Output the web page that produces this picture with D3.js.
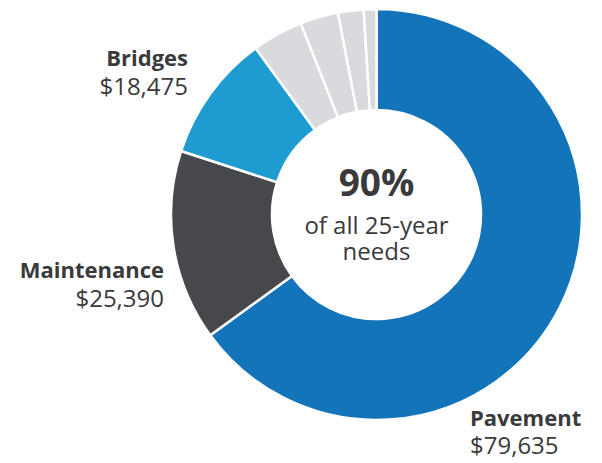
<!DOCTYPE html>
<html>
<head>
<meta charset="utf-8">
<script src="https://cdn.jsdelivr.net/npm/d3@7"></script>
<style>
  body { margin: 0; background: #fff; }
  text { font-family: "Open Sans", "Noto Sans", sans-serif; fill: #3a3a3c; }
</style>
</head>
<body>
<svg id="chart"></svg>
<script>
// Slices, clockwise from 12 o'clock (share of all 25-year needs, %)
const categories = ["Pavement", "Maintenance", "Bridges", "Other 1", "Other 2", "Other 3", "Other 4"];
const shares = [65, 15, 10, 4, 3, 2, 1];
const colors = ["#1474ba", "#47484c", "#1e9cd2", "#d9dadd", "#d9dadd", "#d9dadd", "#d9dadd"];
// Labelled slices
const labelNames = ["Pavement", "Maintenance", "Bridges"];
const labelAmounts = ["$79,635", "$25,390", "$18,475"];
const centerValue = "90%";
const centerLines = ["of all 25-year", "needs"];

const width = 602, height = 463;
const cx = 376.5, cy = 214.5;
const outerR = 205.5, innerR = 104.5;

const svg = d3.select("#chart")
    .attr("width", width)
    .attr("height", height);

const data = categories.map((c, i) => ({ name: c, value: shares[i], color: colors[i] }));

const pie = d3.pie()
    .sort(null)
    .value(d => d.value);

const arc = d3.arc()
    .innerRadius(innerR)
    .outerRadius(outerR);

const g = svg.append("g")
    .attr("transform", `translate(${cx},${cy})`);

g.selectAll("path")
    .data(pie(data))
    .join("path")
    .attr("d", arc)
    .attr("fill", d => d.data.color)
    .attr("stroke", "#fff")
    .attr("stroke-width", 2.5)
    .attr("stroke-linejoin", "miter");

// center text
g.append("text")
    .attr("text-anchor", "middle")
    .attr("y", -18.5)
    .attr("font-size", 37)
    .attr("font-weight", 700)
    .text(centerValue);

g.selectAll(".sub")
    .data(centerLines)
    .join("text")
    .attr("class", "sub")
    .attr("text-anchor", "middle")
    .attr("y", (d, i) => 19 + i * 26.5)
    .attr("font-size", 24)
    .text(d => d);

// outside labels
const labelPos = [
    { x: 470, y: 425.5, anchor: "start" },
    { x: 164, y: 278, anchor: "end" },
    { x: 188, y: 66, anchor: "end" }
];

labelNames.forEach((name, i) => {
    const p = labelPos[i];
    const t = svg.append("text")
        .attr("text-anchor", p.anchor);
    t.append("tspan")
        .attr("x", p.x)
        .attr("y", p.y)
        .attr("font-size", 22)
        .attr("font-weight", 700)
        .text(name);
    t.append("tspan")
        .attr("x", p.x)
        .attr("y", p.y + 28.5)
        .attr("font-size", 24)
        .text(labelAmounts[i]);
});
</script>
</body>
</html>
